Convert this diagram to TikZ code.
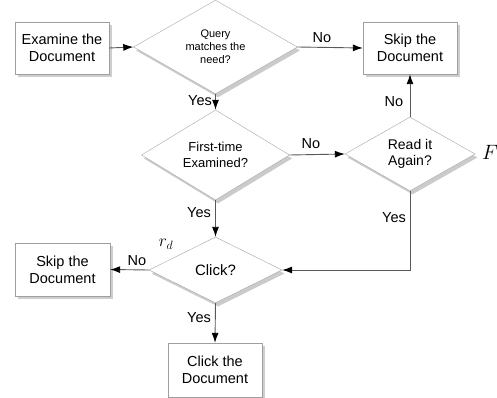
\documentclass[tikz,border=0pt]{standalone}
\usepackage{fontspec}
\setmainfont{Liberation Sans}
\usetikzlibrary{shapes.geometric,arrows.meta,shadows}
\begin{document}
\begin{tikzpicture}[x=1pt,y=-1pt,
 box/.style={draw=gray!75, fill=white, minimum width=94pt, minimum height=52pt, inner sep=0pt, align=center,
   font=\fontsize{14.5}{17}\selectfont, drop shadow={shadow xshift=3pt, shadow yshift=-3pt, fill=gray!75}},
 dia/.style={diamond, draw=gray!70, fill=white, inner sep=0pt, align=center,
   drop shadow={shadow xshift=2.5pt, shadow yshift=-3.5pt, fill=gray!80}},
 arr/.style={draw=black!65, line width=0.9pt, -{Latex[length=10pt,width=7pt,color=black]}},
 lbl/.style={font=\fontsize{14.5}{16}\selectfont, inner sep=0pt}]
\useasboundingbox (0,0) rectangle (497,398);
\fill[white] (0,0) rectangle (497,398);
% boxes
\node[box] (exam) at (62,48) {Examine the\\Document};
\node[box] (skipA) at (410,48) {Skip the\\Document};
\node[box, minimum width=95pt, minimum height=53pt] (skipB) at (62.5,269.5) {Skip the\\Document};
\node[box, minimum height=54pt] (clickdoc) at (215,370) {Click the\\Document};
% diamonds
\node[dia, minimum width=164pt, minimum height=84pt, font=\fontsize{11}{13}\selectfont] (query) at (215.5,47) {Query\\matches the\\need?};
\node[dia, minimum width=148pt, minimum height=76pt, font=\fontsize{13}{15.5}\selectfont] (first) at (215.5,155) {First-time\\Examined?};
\node[dia, minimum width=130pt, minimum height=66pt, font=\fontsize{14}{16.5}\selectfont] (read) at (410,154) {Read it\\Again?};
\node[dia, minimum width=133pt, minimum height=66pt, font=\fontsize{15}{17}\selectfont] (click) at (215.5,270) {Click?};
% connectors
\draw[arr] (exam.east) -- (query.west);
\draw[arr] (query.east) -- (skipA.west);
\draw[arr] (query.south) -- (first.north);
\draw[arr] (first.east) -- (read.west);
\draw[arr] (read.north) -- (skipA.south);
\draw[arr] (first.south) -- (click.north);
\draw[arr] (read.south) |- (click.east);
\draw[arr] (click.west) -- (skipB.east);
\draw[arr] (click.south) -- (clickdoc.north);
% labels
\node[lbl] (l1) at (322,38) {No};
\node[lbl] (l2) at (200,101) {Yes};
\node[lbl] (l3) at (311,144) {No};
\node[lbl] (l4) at (394,102) {No};
\node[lbl] (l5) at (394,218) {Yes};
\node[lbl] (l6) at (199,213) {Yes};
\node[lbl] (l7) at (137,261) {No};
\node[lbl] (l8) at (199,318) {Yes};
\node[inner sep=0pt, font=\fontsize{18}{20}\selectfont] (rd) at (166,244) {$r_d$};
\node[inner sep=0pt, anchor=west, font=\fontsize{20}{22}\selectfont] (F) at (482,152) {$F$};
\end{tikzpicture}
\end{document}
